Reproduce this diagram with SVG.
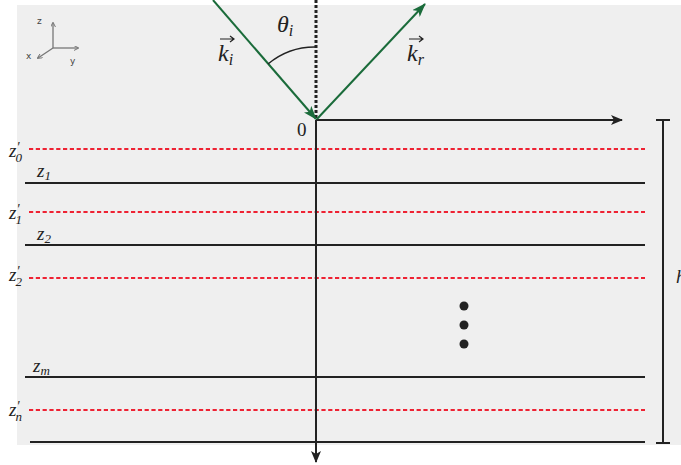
<svg xmlns="http://www.w3.org/2000/svg" width="681" height="465" viewBox="0 0 681 465">
<style>
.m{font-family:"Liberation Serif","DejaVu Serif",serif;font-style:italic;fill:#222}
.r{font-family:"Liberation Serif","DejaVu Serif",serif;fill:#222}
.blk{stroke:#222;stroke-width:2;fill:none}
.red{stroke:#ee2233;stroke-width:2.2;stroke-dasharray:4.2 2.6;fill:none}
.grn{stroke:#1a6b3a;stroke-width:2;fill:none}
.ax{stroke:#777;stroke-width:1.3;fill:none}
.axt{font-family:"DejaVu Sans",sans-serif;font-size:9px;fill:#444}
</style>
<defs>
<marker id="ah" viewBox="0 0 12 10" refX="11" refY="5" markerWidth="12" markerHeight="10" markerUnits="userSpaceOnUse" orient="auto">
<path d="M0,0 L12,5 L0,10 L3,5 Z" fill="#222"/>
</marker>
<marker id="ag" viewBox="0 0 14 10" refX="13" refY="5" markerWidth="14" markerHeight="10" markerUnits="userSpaceOnUse" orient="auto">
<path d="M0,0 L14,5 L0,10 L3.5,5 Z" fill="#1a6b3a"/>
</marker>
<marker id="sa" viewBox="0 0 6 6" refX="5" refY="3" markerWidth="5" markerHeight="5" markerUnits="userSpaceOnUse" orient="auto">
<path d="M0,0 L6,3 L0,6" fill="none" stroke="#777" stroke-width="1.2"/>
</marker>
</defs>
<rect x="17" y="5" width="664" height="440" fill="#efefef"/>
<g id="axes">
<line class="ax" x1="53" y1="48" x2="53" y2="23" marker-end="url(#sa)"/>
<line class="ax" x1="53" y1="48" x2="78" y2="48" marker-end="url(#sa)"/>
<line class="ax" x1="53" y1="48" x2="38" y2="58" marker-end="url(#sa)"/>
<text class="axt" x="37" y="24">z</text>
<text class="axt" x="26" y="59">x</text>
<text class="axt" x="70" y="64">y</text>
</g>
<g id="layers">
<line class="red" x1="29" y1="149" x2="645" y2="149"/>
<line class="blk" x1="25" y1="183" x2="645" y2="183"/>
<line class="red" x1="29" y1="212" x2="645" y2="212"/>
<line class="blk" x1="25" y1="245" x2="645" y2="245"/>
<line class="red" x1="29" y1="278" x2="645" y2="278"/>
<line class="blk" x1="25" y1="377" x2="645" y2="377"/>
<line class="red" x1="29" y1="410" x2="645" y2="410"/>
<line class="blk" x1="30" y1="442" x2="645" y2="442"/>
</g>
<g id="connectors">
<line x1="316" y1="0" x2="316" y2="119" stroke="#222" stroke-width="3" stroke-dasharray="3 2"/>
<line class="blk" x1="316" y1="120" x2="316" y2="462" marker-end="url(#ah)"/>
<line class="blk" x1="316" y1="120" x2="622" y2="120" marker-end="url(#ah)"/>
<line class="grn" x1="213" y1="0" x2="316" y2="119" marker-end="url(#ag)"/>
<line class="grn" x1="317" y1="119" x2="425" y2="4" marker-end="url(#ag)"/>
<path d="M268,64 A73,73 0 0 1 316,47" stroke="#222" stroke-width="1.3" fill="none"/>
<line class="blk" x1="663" y1="120" x2="663" y2="443"/>
<line class="blk" x1="656" y1="120" x2="670" y2="120"/>
<line class="blk" x1="656" y1="443" x2="670" y2="443"/>
</g>
<g id="labels">
<text class="m" x="277" y="32" font-size="24">θ<tspan font-size="16" dy="4">i</tspan></text>
<text class="m" x="218" y="61" font-size="24">k<tspan font-size="16" dy="4">i</tspan></text>
<path d="M220,39 L234,39 M230,36 L234,39 L230,42" stroke="#222" stroke-width="1.2" fill="none"/>
<text class="m" x="407" y="61" font-size="24">k<tspan font-size="16" dy="4">r</tspan></text>
<path d="M409,39 L423,39 M419,36 L423,39 L419,42" stroke="#222" stroke-width="1.2" fill="none"/>
<text class="r" x="297" y="136" font-size="19">0</text>
<text class="m" x="9" y="157" font-size="19">z<tspan font-size="14" dy="-5">′</tspan><tspan font-size="13" dx="-4" dy="10">0</tspan></text>
<text class="m" x="37" y="177" font-size="19">z<tspan font-size="13" dy="3">1</tspan></text>
<text class="m" x="9" y="219" font-size="19">z<tspan font-size="14" dy="-5">′</tspan><tspan font-size="13" dx="-4" dy="10">1</tspan></text>
<text class="m" x="37" y="240" font-size="19">z<tspan font-size="13" dy="3">2</tspan></text>
<text class="m" x="9" y="281" font-size="19">z<tspan font-size="14" dy="-5">′</tspan><tspan font-size="13" dx="-4" dy="10">2</tspan></text>
<text class="m" x="33" y="372" font-size="19">z<tspan font-size="13" dy="3">m</tspan></text>
<text class="m" x="9" y="416" font-size="19">z<tspan font-size="14" dy="-5">′</tspan><tspan font-size="13" dx="-4" dy="10">n</tspan></text>
<text class="m" x="676" y="283" font-size="19">h</text>
</g>
<g id="dots" fill="#222">
<circle cx="464" cy="306" r="4.5"/>
<circle cx="464" cy="325" r="4.5"/>
<circle cx="464" cy="344" r="4.5"/>
</g>
</svg>
